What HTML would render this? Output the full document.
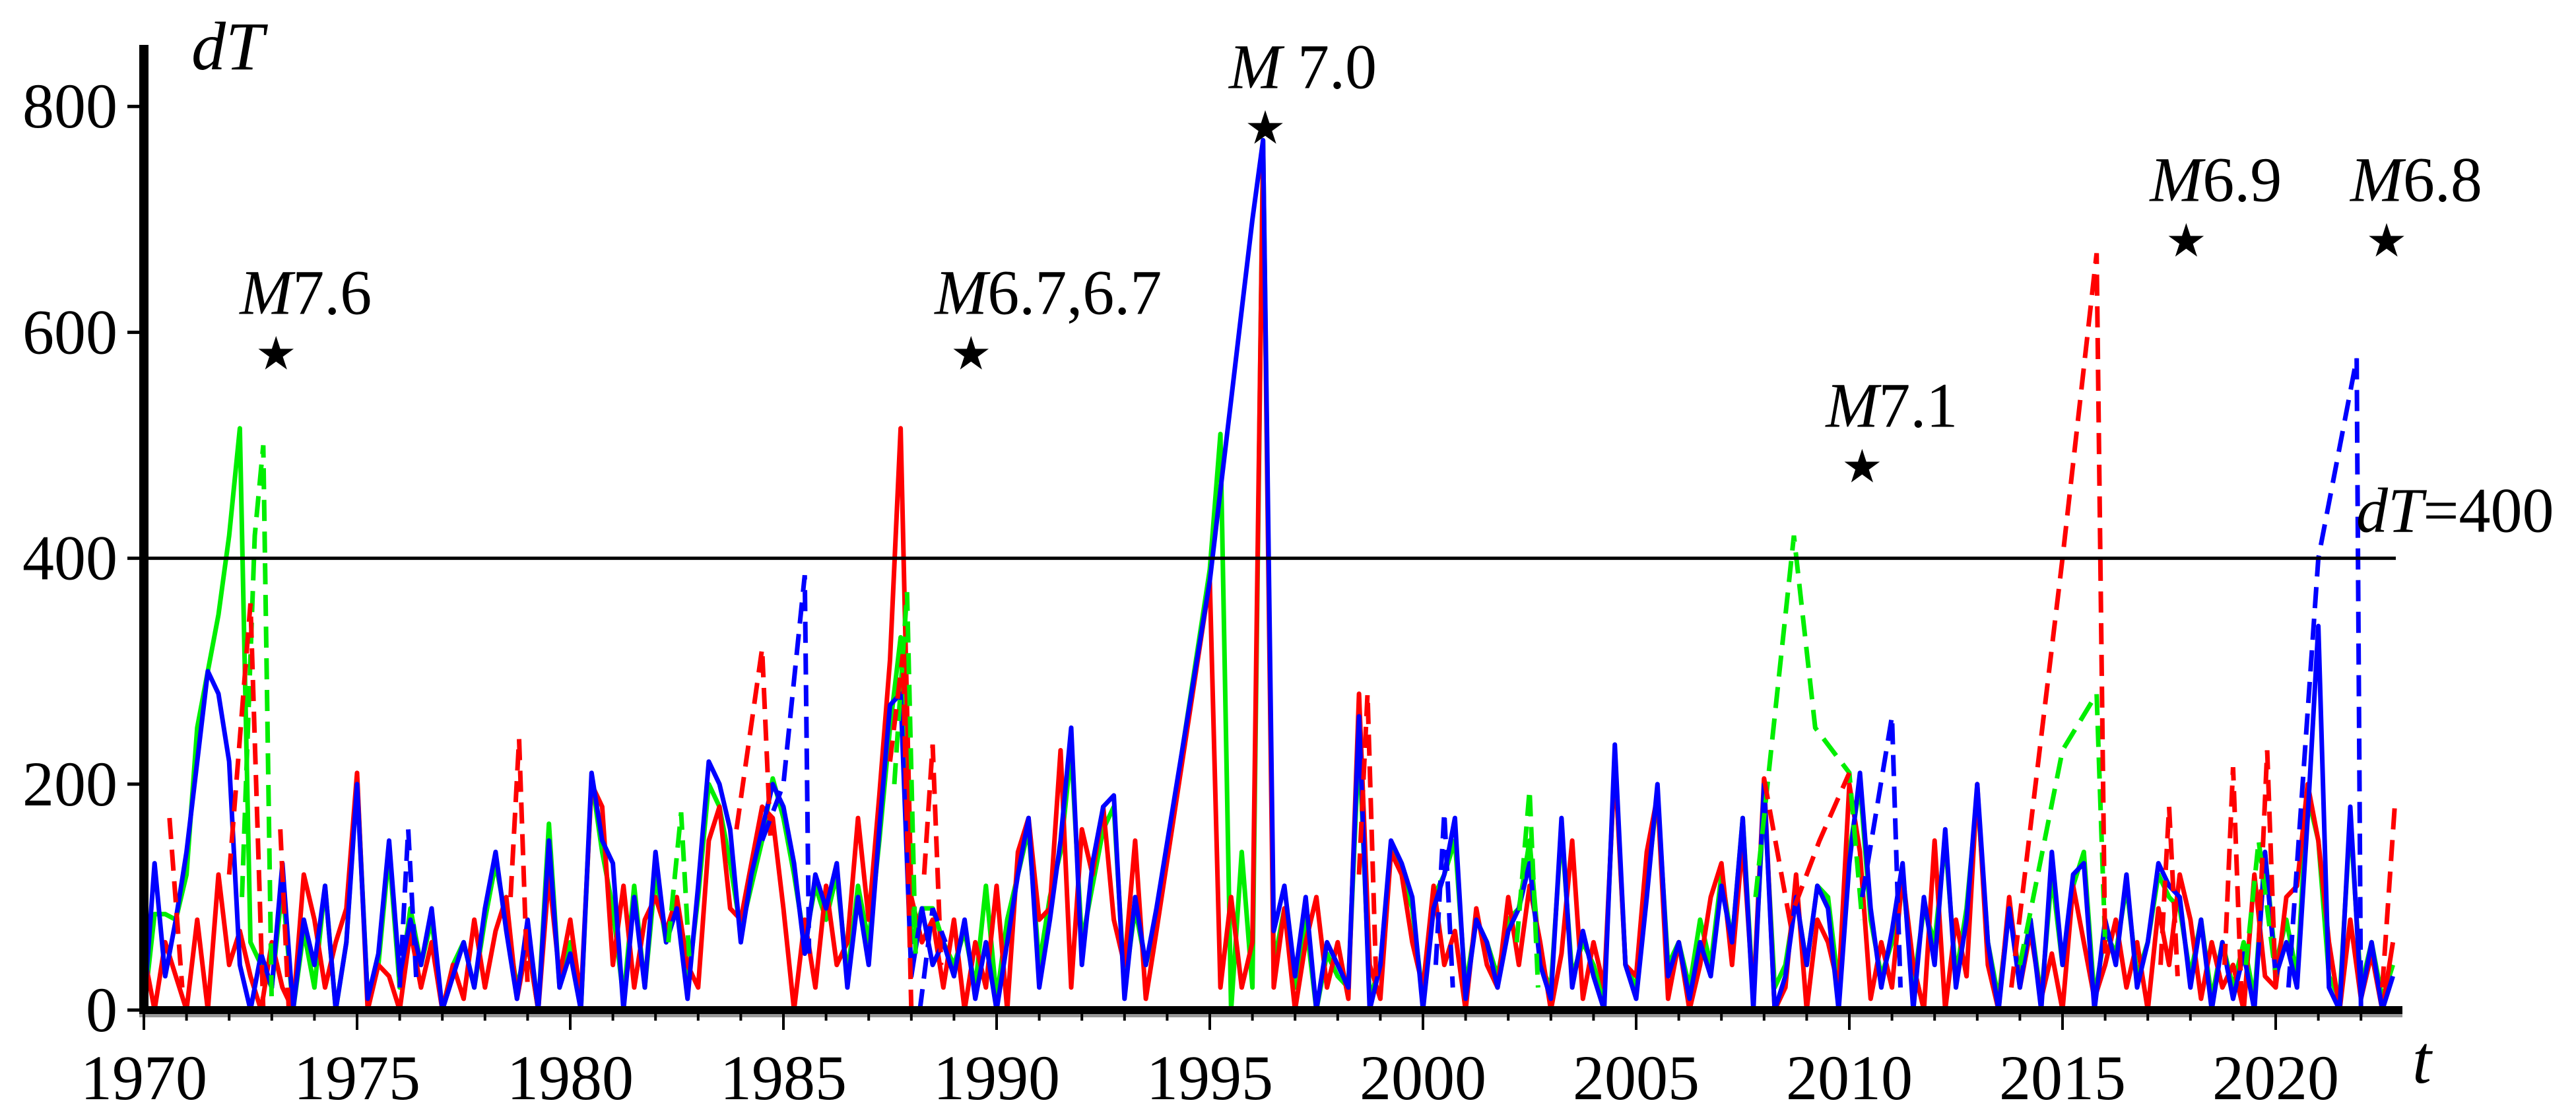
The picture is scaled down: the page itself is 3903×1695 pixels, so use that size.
<!DOCTYPE html>
<html><head><meta charset="utf-8"><style>
html,body{margin:0;padding:0;background:#fff}
svg{display:block}
text{font-family:"Liberation Serif",serif;fill:#000}
</style></head><body>
<svg id="chart" width="3903" height="1695" viewBox="0 0 3903 1695" xmlns="http://www.w3.org/2000/svg">
<g id="series"></g>
<g id="axes"></g>
<g id="annot"></g>
</svg>
<script>
const xTicks=[1970,1975,1980,1985,1990,1995,2000,2005,2010,2015,2020];
const yTicks=[0,200,400,600,800];
const threshold=400;
const startYear=1970;
const blueSolid=[
0,130,30,80, 140,220,300,280, 220,40,0,50, 20,130,0,80, 40,110,0,60, 200,10,50,150,
30,80,40,90, 0,30,60,20, 90,140,70,10, 80,0,150,20, 50,0,210,150, 130,0,100,20,
140,60,90,10, 110,220,200,160, 60,120,160,200, 180,130,50,120, 90,130,20,100, 40,160,270,280,
30,90,40,60, 30,80,10,60, 0,60,120,170, 20,80,150,250, 40,130,180,190, 10,100,40,90,
null,null,null,null, 380,460,540,620, 700,770,70,110, 30,100,0,60, 40,20,260,0, 40,150,130,100,
0,90,120,170, 10,80,60,20, 70,90,130,40, 10,170,20,70, 30,0,235,40, 10,100,200,30,
60,10,60,30, 110,60,170,0, 200,0,30,100, 40,110,90,0, 130,210,90,20, 70,130,0,100,
40,160,20,80, 200,60,0,90, 20,80,0,140, 40,120,130,0, 80,40,120,20, 60,130,110,100,
20,80,0,60, 10,50,0,140, 30,60,20,170, 340,20,0,180, 10,60,0,30];
const redSolid=[
50,0,60,30, 0,80,0,120, 40,70,30,0, 60,20,0,120, 80,20,60,90, 210,0,40,30,
0,70,20,60, 0,40,10,80, 20,70,100,10, 60,0,120,30, 80,10,200,180, 40,110,20,80,
100,70,100,40, 20,150,180,90, 80,130,180,170, 90,0,80,20, 110,40,60,170, 80,190,310,515,
100,60,80,20, 80,0,60,20, 110,0,140,170, 80,90,230,20, 160,120,180,80, 40,150,10,70,
null,null,null,null, 380,20,100,20, 60,760,20,90, 0,60,100,20, 60,10,280,40, 10,140,120,60,
20,110,40,70, 0,90,40,20, 100,40,110,60, 0,50,150,10, 60,20,220,40, 30,140,190,10,
60,0,40,100, 130,40,150,10, 205,0,20,120, 0,80,60,20, 200,140,10,60, 20,120,40,0,
150,0,80,30, 200,40,0,100, 20,70,10,50, 0,110,60,10, 40,80,20,60, 0,90,40,120,
80,10,60,20, 40,0,120,30, 20,100,110,200, 150,60,0,80, 10,50,0,60];
const greenSolid=[
0,85,85,80, 120,250,300,350, 420,515,60,40, 20,110,0,70, 20,110,0,60, 205,10,40,140,
20,90,40,80, 0,40,60,20, 80,130,80,20, 60,0,165,20, 60,0,205,140, 90,10,110,20,
120,60,90,20, 100,200,180,130, 70,110,150,205, 170,120,60,110, 80,120,30,110, 60,150,250,330,
60,90,90,60, 40,70,20,110, 10,80,120,160, 40,100,140,230, 60,110,160,180, 20,90,40,80,
null,null,null,null, 390,510,0,140, 20,770,40,90, 20,80,0,50, 30,20,240,10, 40,145,120,90,
10,100,120,150, 20,80,60,30, 80,90,150,40, 20,160,30,60, 40,10,225,40, 20,110,190,40,
60,20,80,40, 120,60,170,10, 190,20,40,100, 40,110,100,20, 140,200,80,30, 60,120,20,90,
60,150,30,90, 190,60,10,90, 30,80,10,120, 40,110,140,10, 70,50,110,30, 60,120,100,90,
30,80,10,60, 20,60,10,140, 40,80,30,190, 150,30,10,170, 20,60,10,40];
const redDashT=[1970.6,1970.9,null,1972.0,1972.5,1972.8,null,1973.2,1973.4,null,1978.6,1978.8,1979.0,null,1983.9,1984.5,1984.7,null,1987.5,1987.8,1988.0,null,1988.3,1988.5,1988.7,null,1998.5,1998.7,1998.9,null,2008.0,2008.6,2009.3,2010.0,null,2013.8,2015.0,2015.8,2016.0,null,2017.3,2017.5,2017.7,null,2018.8,2019.0,2019.2,null,2019.6,2019.8,2020.0,null,2022.5,2022.8];
const redDashV=[170,20,null,120,360,0,null,160,0,null,100,240,20,null,160,320,150,null,220,315,0,null,120,235,40,null,120,280,30,null,205,80,150,210,null,20,400,670,50,null,40,180,30,null,40,215,10,null,60,230,20,null,20,185];
const greenDashT=[1972.3,1972.6,1972.8,1973.0,null,1982.3,1982.6,1982.8,null,1987.6,1987.9,1988.1,null,2002.2,2002.5,2002.7,null,2007.8,2008.7,2009.2,2010.0,2010.3,null,2014.0,2015.0,2015.8,2016.0,null,2019.3,2019.6,2020.0];
const greenDashV=[100,420,500,0,null,60,175,40,null,200,370,50,null,60,195,20,null,100,420,250,210,80,null,40,230,280,60,null,40,150,30];
const blueDashT=[1976.0,1976.2,1976.4,null,1984.5,1985.0,1985.5,1985.6,null,1988.2,1988.5,1988.8,null,2000.3,2000.5,2000.7,null,2010.3,2011.0,2011.2,null,2020.3,2021.0,2021.9,2022.0];
const blueDashV=[20,160,20,null,150,200,385,50,null,0,90,60,null,40,175,20,null,100,260,20,null,20,400,577,0];
const quakeYears=[1973.1,1989.4,1996.3,2010.3,2017.9,2022.6];
const quakeValues=[580,580,780,480,680,680];
const quakeLabels=["7.6","6.7,6.7"," 7.0","7.1","6.9","6.8"];

const X0=218,PXY=64.6,Y0=1530,PYV=1.711;
const xs=t=>X0+(t-startYear)*PXY;
const ys=v=>Y0-v*PYV;
const NS="http://www.w3.org/2000/svg";
function mk(tag,attrs,parent){const e=document.createElementNS(NS,tag);for(const k in attrs)e.setAttribute(k,attrs[k]);parent.appendChild(e);return e;}
const gS=document.getElementById('series'),gA=document.getElementById('axes'),gN=document.getElementById('annot');

function solidPath(vals){let d='';let first=true;vals.forEach((v,i)=>{if(v===null)return;const t=startYear+i*0.25;d+=(first?'M':'L')+xs(t).toFixed(1)+' '+ys(v).toFixed(1);first=false;});return d;}
function dashPath(T,V){let d='';let move=true;T.forEach((t,i)=>{if(t===null){move=true;return;}d+=(move?'M':'L')+xs(t).toFixed(1)+' '+ys(V[i]).toFixed(1);move=false;});return d;}

const sets=[["green-solid-series",greenSolid,"#00ee00"],["red-solid-series",redSolid,"#ff0000"],["blue-solid-series",blueSolid,"#0000ff"]];
sets.forEach(s=>{const p=mk('path',{d:solidPath(s[1]),fill:'none',stroke:s[2],'stroke-width':7,'stroke-linejoin':'round'},gS);

});
const dsets=[["green-dashed-series",greenDashT,greenDashV,"#00ee00"],["red-dashed-series",redDashT,redDashV,"#ff0000"],["blue-dashed-series",blueDashT,blueDashV,"#0000ff"]];
dsets.forEach(s=>{const p=mk('path',{d:dashPath(s[1],s[2]),fill:'none',stroke:s[3],'stroke-width':7,'stroke-dasharray':'32 16'},gS);

});

const th=mk('line',{x1:X0,x2:3630,y1:ys(threshold),y2:ys(threshold),stroke:'#000','stroke-width':5},gA);


const thl=mk('text',{x:3570,y:ys(threshold)-40,'font-size':96},gA);
thl.innerHTML='<tspan font-style="italic">dT</tspan>=400';



const ya=mk('line',{x1:X0,x2:X0,y1:68,y2:Y0+6,stroke:'#000','stroke-width':14},gA);


const xs2=mk('line',{x1:X0-7,x2:3640,y1:Y0+8,y2:Y0+8,stroke:'#999','stroke-width':6},gA);


const xa=mk('line',{x1:X0-7,x2:3640,y1:Y0,y2:Y0,stroke:'#000','stroke-width':12},gA);


for(let y=1970;y<=2022;y++){const major=xTicks.includes(y);
const tk=mk('line',{x1:xs(y),x2:xs(y),y1:Y0,y2:Y0+(major?30:16),stroke:'#000','stroke-width':4},gA);

}
xTicks.forEach(y=>{const t=mk('text',{x:xs(y),y:1665,'font-size':96,'text-anchor':'middle'},gA);t.textContent=y;

});
yTicks.forEach(v=>{const tk=mk('line',{x1:X0-25,x2:X0,y1:ys(v),y2:ys(v),stroke:'#000','stroke-width':5},gA);


const t=mk('text',{x:178,y:ys(v)+32,'font-size':96,'text-anchor':'end'},gA);t.textContent=v;

});
const yt=mk('text',{x:290,y:105,'font-size':104,'font-style':'italic'},gA);yt.textContent='dT';


const xt=mk('text',{x:3655,y:1640,'font-size':104,'font-style':'italic'},gA);xt.textContent='t';



quakeYears.forEach((yr,i)=>{const s=mk('text',{x:xs(yr),y:ys(quakeValues[i])+22,'font-size':70,'text-anchor':'middle',fill:'#000'},gN);s.textContent='★';


const l=mk('text',{x:xs(yr)-55,y:ys(quakeValues[i])-62,'font-size':96},gN);
l.innerHTML='<tspan font-style="italic">M</tspan>'+quakeLabels[i];

});
</script>
</body></html>
